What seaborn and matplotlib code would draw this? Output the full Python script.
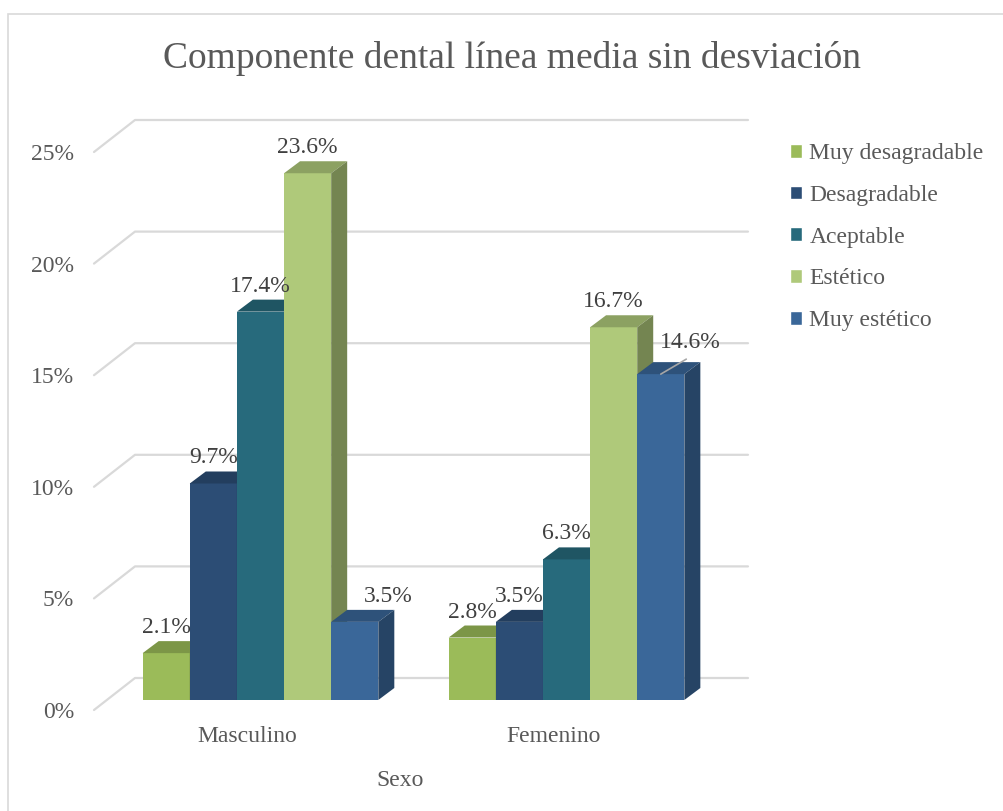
import pandas as pd
import numpy as np
import seaborn as sns
import matplotlib
matplotlib.use('Agg')
from matplotlib import pyplot as plt
from matplotlib.patches import Polygon, Rectangle
from matplotlib import transforms
from matplotlib.colors import to_rgb

# datos
sexo = ['Masculino', 'Femenino']
niveles = ['Muy desagradable', 'Desagradable', 'Aceptable', 'Estético', 'Muy estético']
masculino = [2.1, 9.7, 17.4, 23.6, 3.5]
femenino = [2.8, 3.5, 6.3, 16.7, 14.6]
yticks = [0, 0.05, 0.10, 0.15, 0.20, 0.25]
ytick_labels = ['0%', '5%', '10%', '15%', '20%', '25%']

colores = ['#9BBB59', '#2C4D75', '#276A7C', '#AFC97A', '#3A6799']

filas = []
for s, vals in zip(sexo, [masculino, femenino]):
    for n, v in zip(niveles, vals):
        filas.append({'Sexo': s, 'Nivel': n, 'valor': v / 100})
df = pd.DataFrame(filas)

sns.set_style('white')
plt.rcParams['font.family'] = ['Liberation Serif', 'DejaVu Serif']
gris = '#595959'
fs = 17

fig = plt.figure(figsize=(10.04, 8.11), dpi=100)
W, H = 1004, 811
# area de trazado (plano frontal de las barras) en pixeles
x0, x1, ybot, ytop = 94, 748, 700, 142
ax = fig.add_axes([x0 / W, 1 - ybot / H, (x1 - x0) / W, (ybot - ytop) / H])

sns.barplot(data=df, x='Sexo', y='valor', hue='Nivel', palette=colores,
            saturation=1, width=0.77, dodge=True, errorbar=None, ax=ax)
ax.set_xlim(-0.544, 1.593)
ax.set_ylim(0, 0.25)
sns.despine(ax=ax, left=True, bottom=True)

# conversion pixel -> datos
px_x = ax.transData.transform((1, 0))[0] - ax.transData.transform((0, 0))[0]
px_y = ax.transData.transform((0, 1))[1] - ax.transData.transform((0, 0))[1]
dep_x, dep_y = 16 / px_x, 12 / px_y  # profundidad de las barras

# rejilla en perspectiva
blend = transforms.blended_transform_factory(ax.transAxes, ax.transData)
back_x = (135 - x0) / (x1 - x0)
for v in yticks:
    ax.plot([0, back_x, 1.0], [v - 10 / px_y, v + 22 / px_y, v + 22 / px_y],
            color='#D9D9D9', lw=1.6, transform=blend, zorder=0.5, clip_on=False)

# barras 3D: cara superior y lateral
bars = []
for i, cont in enumerate(ax.containers):
    for j, b in enumerate(cont):
        bars.append((b.get_x(), b, i, j))
bars.sort(key=lambda t: t[0])
for k, (bx, b, i, j) in enumerate(bars):
    z = 2 + k * 0.01
    b.set_zorder(z)
    b.set_edgecolor('none')
    w, h = b.get_width(), b.get_height()
    c = np.array(to_rgb(colores[i]))
    top = Polygon([(bx, h), (bx + dep_x, h + dep_y), (bx + w + dep_x, h + dep_y), (bx + w, h)],
                  closed=True, facecolor=c * 0.8, edgecolor='none', zorder=z + 0.001)
    side = Polygon([(bx + w, 0), (bx + w + dep_x, dep_y), (bx + w + dep_x, h + dep_y), (bx + w, h)],
                   closed=True, facecolor=c * 0.66, edgecolor='none', zorder=z + 0.001)
    ax.add_patch(top)
    ax.add_patch(side)

# etiquetas de datos
ajustes = {(0, 4): (34, 0), (1, 4): (30, -6)}  # (sexo, nivel): desplazamiento en px
for i, cont in enumerate(ax.containers):
    for j, b in enumerate(cont):
        v = b.get_height()
        cx = b.get_x() + b.get_width() / 2
        dx, dy = ajustes.get((j, i), (0, 0))
        ax.annotate(f'{v * 100:.1f}%', (cx, v + dep_y), xytext=(dx * 0.72, 3 * 0.72 - dy * 0.72),
                    textcoords='offset points', ha='center', va='bottom',
                    fontsize=fs, color='#404040', zorder=10)
        if (j, i) == (1, 4):
            ax.annotate('', (cx, v), xytext=(25.5 * 0.72, 15 * 0.72), textcoords='offset points',
                        arrowprops=dict(arrowstyle='-', color='#A6A6A6', lw=1.2,
                                        shrinkA=0, shrinkB=0), zorder=10)

# ejes
ax.set_yticks(yticks)
ax.set_yticklabels(ytick_labels)
ax.tick_params(axis='y', length=0, pad=14.4, labelsize=fs, labelcolor=gris)
for lab in ax.get_yticklabels():
    lab.set_transform(lab.get_transform() + transforms.ScaledTranslation(0, -0.10, fig.dpi_scale_trans))
ax.tick_params(axis='x', length=0, pad=19, labelsize=fs, labelcolor=gris)
for lab in ax.get_xticklabels():
    lab.set_transform(lab.get_transform() + transforms.ScaledTranslation(-0.13, 0, fig.dpi_scale_trans))
ax.set_xlabel('Sexo', fontsize=fs, color=gris)
ax.xaxis.set_label_coords((400 - x0) / (x1 - x0), -0.125)
ax.set_ylabel('')
ax.grid(False)

# leyenda
sns.move_legend(ax, 'upper left', bbox_to_anchor=(790 / W, 1 - 143 / H),
                bbox_transform=fig.transFigure, frameon=False, title=None,
                fontsize=fs, handlelength=0.52, handleheight=0.52, handletextpad=0.3,
                labelspacing=0.88, borderpad=0, borderaxespad=0)
for t in ax.get_legend().get_texts():
    t.set_color(gris)

fig.text(512 / W, 1 - 58 / H, 'Componente dental línea media sin desviación',
         ha='center', va='center', fontsize=27, color=gris)

fig.patches.append(Rectangle((8 / W, -0.01), 1.0, (811 - 14) / H + 0.01, transform=fig.transFigure,
                             fill=False, edgecolor='#D9D9D9', lw=1.2))

fig.savefig('out.png', dpi=100)
